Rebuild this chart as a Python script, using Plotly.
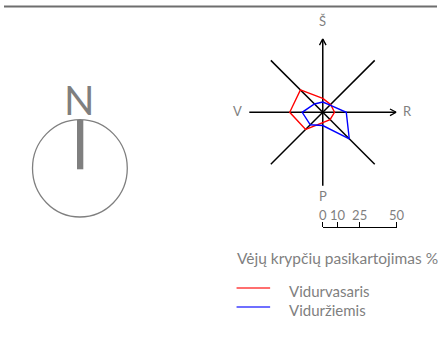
import plotly.graph_objects as go

W, H = 445, 346

# ---- data ----
directions = ["Š", "ŠR", "R", "PR", "P", "PV", "V", "ŠV"]
angles = [0, 45, 90, 135, 180, 225, 270, 315]
summer = [9.5, 7.5, 8, 7, 7, 16.5, 22.5, 21.5]     # Vidurvasaris
winter = [7, 7, 16, 25.5, 9, 12, 14, 8]             # Viduržiemis
series_names = ["Vidurvasaris", "Viduržiemis"]
series_colors = ["#ff0000", "#0000ff"]
scale_ticks = [0, 10, 25, 50]
r_max = 50
legend_title = "Vėjų krypčių pasikartojimas %"
axis_labels = ["Š", "R", "P", "V"]

GRAY = "#7f7f7f"
FONT = "Lato"


def px(x):
    return x / W


def py(y):
    return 1 - y / H


fig = go.Figure()

# wind rose polygons
for name, vals, col in zip(series_names, [summer, winter], series_colors):
    fig.add_trace(go.Scatterpolar(
        r=vals + vals[:1], theta=angles + angles[:1], mode="lines",
        line=dict(color=col, width=1.4), name=name, subplot="polar",
        showlegend=False, hoverinfo="skip"))

# arrowheads on N and E spokes (chevrons)
for ang in [0, 90]:
    fig.add_trace(go.Scatterpolar(
        r=[45.8, r_max, 45.8], theta=[ang - 2.8, ang, ang + 2.8], mode="lines",
        line=dict(color="black", width=1.3), showlegend=False, subplot="polar",
        hoverinfo="skip"))

# invisible trace for the scale-bar axis
fig.add_trace(go.Scatter(x=[scale_ticks[0], scale_ticks[-1]], y=[0, 0], mode="lines",
                         line=dict(width=0), opacity=0, showlegend=False,
                         hoverinfo="skip", xaxis="x", yaxis="y"))

cx, cy, R = 327.6, 112.3, 75.5

fig.update_layout(
    width=W, height=H,
    margin=dict(l=0, r=0, t=0, b=0),
    paper_bgcolor="white", plot_bgcolor="rgba(0,0,0,0)",
    font=dict(family=FONT, color=GRAY, size=13),
    showlegend=False,
    polar=dict(
        domain=dict(x=[px(cx - R), px(cx + R)], y=[py(cy + R), py(cy - R)]),
        bgcolor="rgba(0,0,0,0)",
        radialaxis=dict(range=[0, r_max], showgrid=False, showline=False,
                        showticklabels=False, ticks=""),
        angularaxis=dict(rotation=90, direction="clockwise", tickmode="array",
                         tickvals=angles, showgrid=True, gridcolor="black",
                         gridwidth=1.5, showline=False, showticklabels=False,
                         ticks=""),
    ),
    xaxis=dict(domain=[px(327.5), px(403.5)], range=[0, r_max], side="top",
               anchor="y", showline=True, linecolor="black", linewidth=1,
               ticks="outside", ticklen=5, tickcolor="black", tickwidth=1,
               tickmode="array", tickvals=scale_ticks, ticklabelstandoff=-3,
               tickfont=dict(size=13, color=GRAY, family=FONT),
               showgrid=False, zeroline=False, fixedrange=True),
    yaxis=dict(domain=[py(240), py(228)], visible=False, range=[-1, 1],
               fixedrange=True),
)

# direction labels
label_pos = {"Š": (327.6, 21), "R": (414.5, 110.8), "P": (327.6, 195.5), "V": (239.5, 110.8)}
for lab in axis_labels:
    x, y = label_pos[lab]
    fig.add_annotation(x=px(x), y=py(y), xref="paper", yref="paper", text=lab,
                       showarrow=False, font=dict(size=13, color=GRAY, family=FONT),
                       xanchor="center", yanchor="middle")

# legend title
fig.add_annotation(x=px(237), y=py(258), xref="paper", yref="paper", text=legend_title,
                   showarrow=False, font=dict(size=15.5, color=GRAY, family=FONT),
                   xanchor="left", yanchor="middle")

# legend entries
legend_rows = [288, 307]
for name, col, ly in zip(series_names, series_colors, legend_rows):
    fig.add_shape(type="line", xref="paper", yref="paper",
                  x0=px(239), x1=px(273.5), y0=py(ly), y1=py(ly),
                  line=dict(color=col, width=1.3), opacity=0.75)
    fig.add_annotation(x=px(290.5), y=py(ly + 2.5), xref="paper", yref="paper", text=name,
                       showarrow=False, font=dict(size=15, color=GRAY, family=FONT),
                       xanchor="left", yanchor="middle")

# north compass
fig.add_shape(type="circle", xref="paper", yref="paper",
              x0=px(29.3), x1=px(126.7), y0=py(217), y1=py(119.6),
              line=dict(color=GRAY, width=1.3))
fig.add_shape(type="rect", xref="paper", yref="paper",
              x0=px(75), x1=px(81.5), y0=py(169.3), y1=py(120),
              fillcolor=GRAY, line=dict(width=0))
fig.add_annotation(x=px(77.7), y=py(100), xref="paper", yref="paper", text="N",
                   showarrow=False,
                   font=dict(size=40, color=GRAY, family="Liberation Sans Narrow, Lato"),
                   xanchor="center", yanchor="middle")

# top rule
fig.add_shape(type="line", xref="paper", yref="paper", x0=0, x1=1,
              y0=py(6.5), y1=py(6.5), line=dict(color="#6e6e6e", width=2))

fig.write_html(
    "out.html",
    config={"displayModeBar": False, "staticPlot": True},
    post_script="document.body.style.margin='0px';document.body.style.overflow='hidden';",
)
